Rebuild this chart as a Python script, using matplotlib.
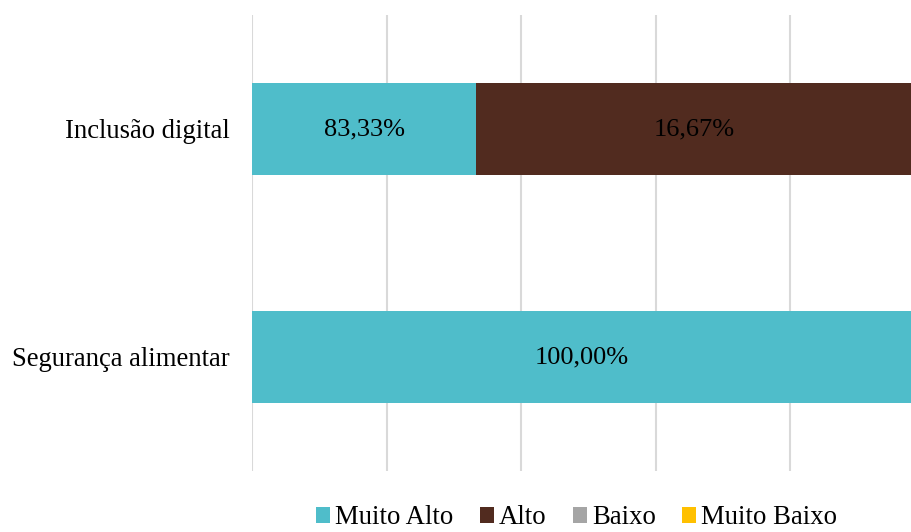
import numpy as np
import matplotlib
matplotlib.use("Agg")
import matplotlib.pyplot as plt

plt.rcParams['font.family'] = ['Liberation Serif', 'DejaVu Serif']

# categories (bottom to top)
categories = ['Segurança alimentar', 'Inclusão digital']
series_names = ['Muito Alto', 'Alto', 'Baixo', 'Muito Baixo']
colors = ['#4FBDCA', '#512B1F', '#A5A5A5', '#FFC000']

# bar lengths as drawn on the (unlabelled) value axis
muito_alto = [5.0, 1.663]
alto = [0.0, 3.337]
baixo = [0.0, 0.0]
muito_baixo = [0.0, 0.0]

# data labels shown on the bars
muito_alto_labels = ['100,00%', '83,33%']
alto_labels = ['', '16,67%']

grid_ticks = [0, 1, 2, 3, 4]

fig = plt.figure(figsize=(9.12, 5.32), dpi=100)
ax = fig.add_axes([0.2767, 0.1147, 0.7233, 0.8571])

y = np.arange(len(categories))
left = np.zeros(len(categories))
bars = []
for name, vals, col in zip(series_names, [muito_alto, alto, baixo, muito_baixo], colors):
    b = ax.barh(y, vals, left=left, height=0.4, color=col, label=name, zorder=2)
    bars.append(b)
    left = left + np.array(vals)

ax.bar_label(bars[0], labels=muito_alto_labels, label_type='center', fontsize=19, color='black')
ax.bar_label(bars[1], labels=alto_labels, label_type='center', fontsize=19, color='black')

ax.set_xlim(0, 4.905)
ax.set_ylim(-0.5, 1.5)
ax.set_xticks(grid_ticks)
ax.set_xticklabels([])
ax.set_yticks(y)
ax.set_yticklabels(categories, fontsize=19.2)
ax.tick_params(axis='both', length=0)
ax.tick_params(axis='y', pad=16.5)
ax.grid(axis='x', color='#D9D9D9', linewidth=1.5, zorder=0)
ax.set_axisbelow(True)
for s in ax.spines.values():
    s.set_visible(False)

fig.legend(loc='center', bbox_to_anchor=(576.5 / 912, 1 - 518 / 532), ncol=4, frameon=False,
           fontsize=19.3, handlelength=0.52, handleheight=0.52, handletextpad=0.185,
           columnspacing=1.0, borderaxespad=0)

fig.savefig('out.png', dpi=100)
